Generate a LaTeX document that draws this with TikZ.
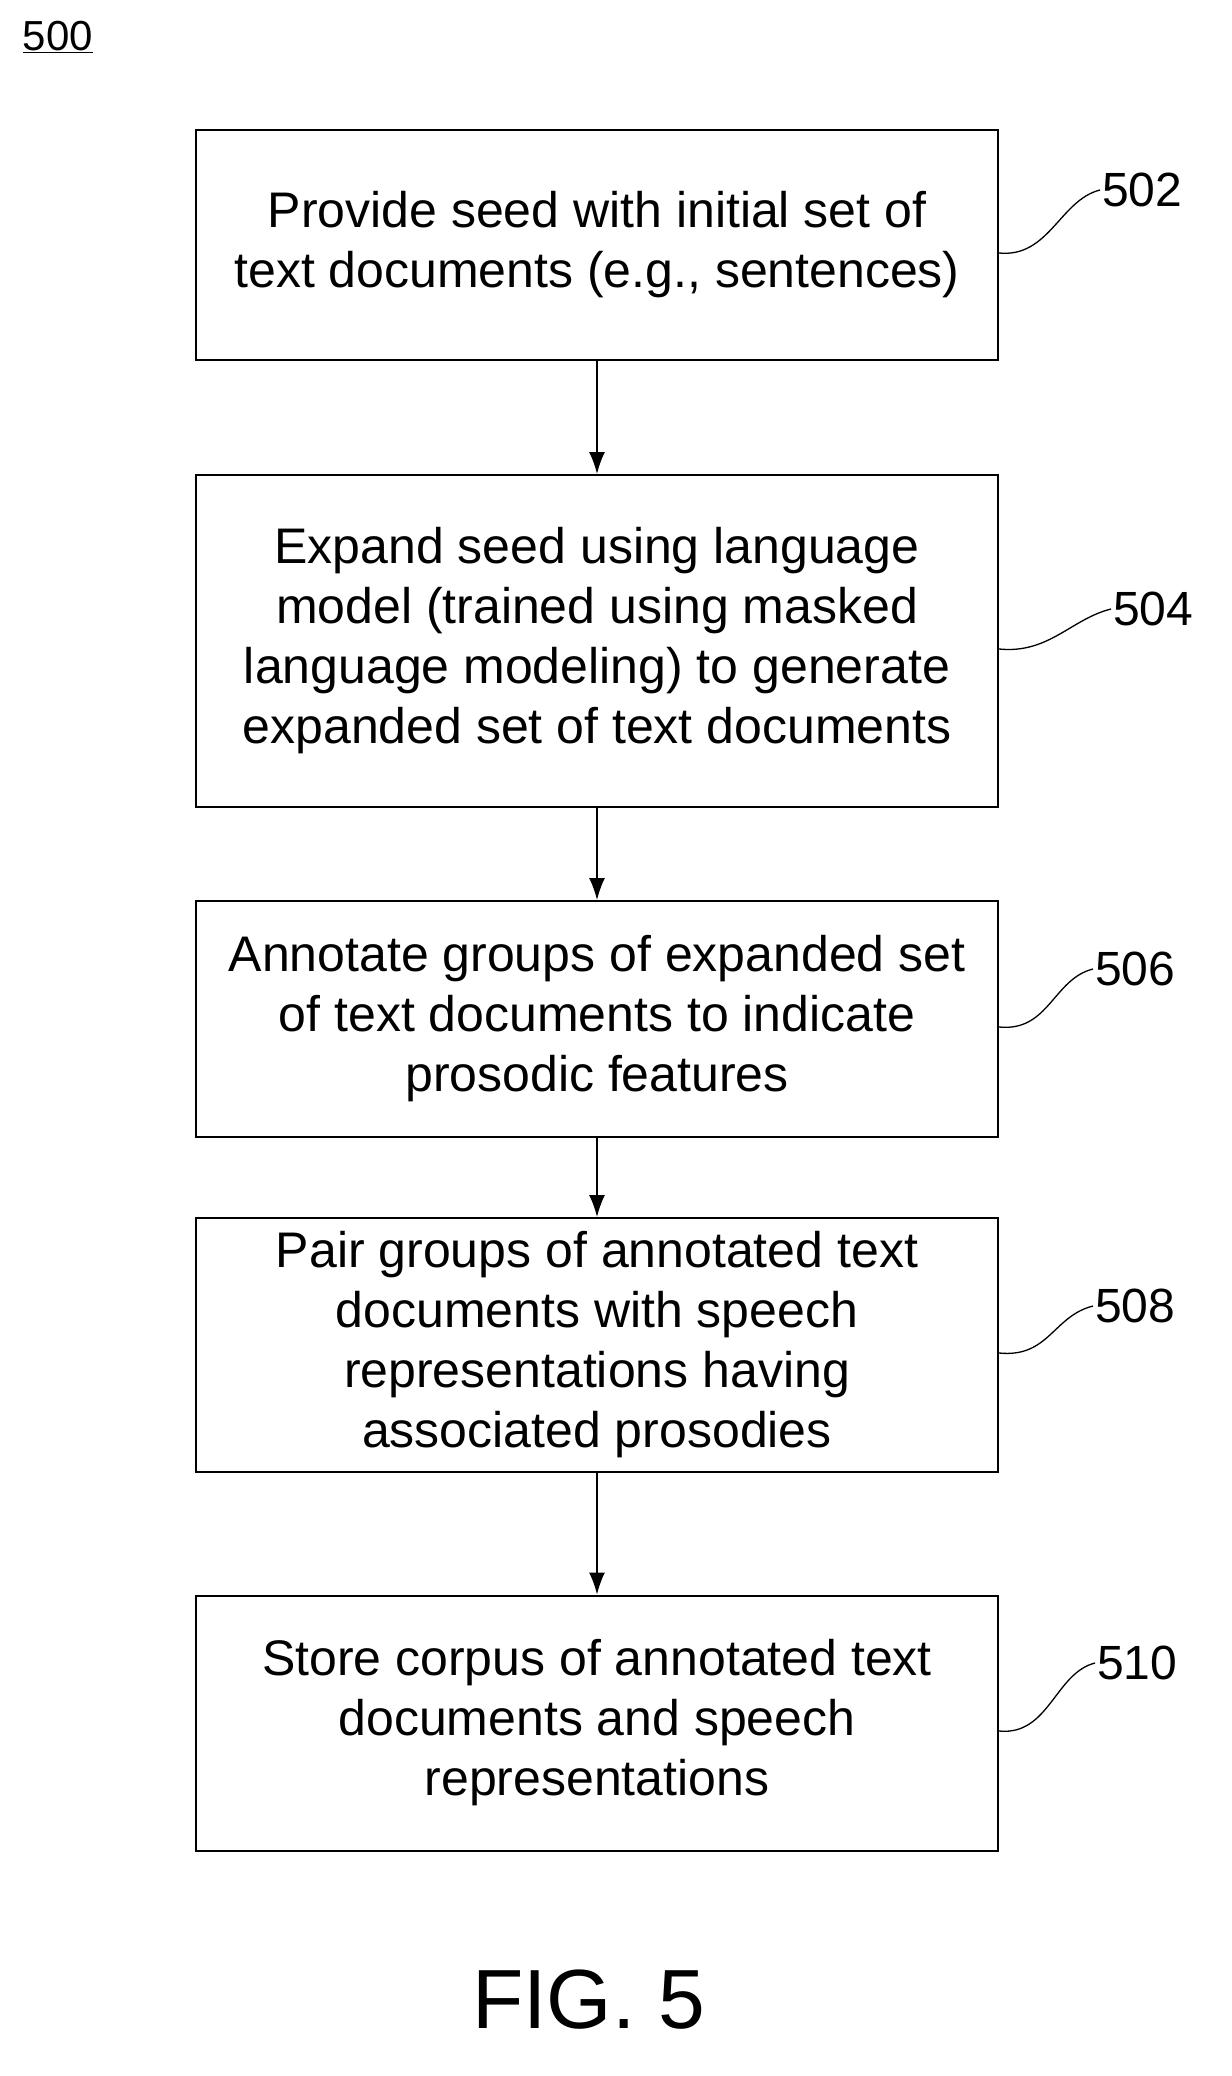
\documentclass[tikz,border=0pt]{standalone}
\usepackage{fontspec}
\setmainfont{Liberation Sans}
\begin{document}
\begin{tikzpicture}[x=1pt,y=-1pt,
  box/.style={draw,line width=2pt,minimum width=802pt,align=center,font=\fontsize{50}{60}\selectfont,inner sep=0pt},
  lab/.style={anchor=west,font=\fontsize{48}{54}\selectfont,inner sep=2pt},
  arr/.style={line width=1.5pt,-{Latex[length=22pt,width=16pt]}},
  sq/.style={line width=1.3pt}]
\usetikzlibrary{arrows.meta}
\useasboundingbox (0,0) rectangle (1231,2076);
\node[box,minimum height=229pt] (b1) at (597,245) {Provide seed with initial set of\\text documents (e.g., sentences)};
\node[box,minimum height=332pt] (b2) at (597,641) {Expand seed using language\\model (trained using masked\\language modeling) to generate\\expanded set of text documents};
\node[box,minimum height=236pt] (b3) at (597,1019) {Annotate groups of expanded set\\of text documents to indicate\\prosodic features};
\node[box,minimum height=254pt] (b4) at (597,1345) {Pair groups of annotated text\\documents with speech\\representations having\\associated prosodies};
\node[box,minimum height=255pt] (b5) at (597,1723) {Store corpus of annotated text\\documents and speech\\representations};
\draw[arr] (b1) -- (b2);
\draw[arr] (b2) -- (b3);
\draw[arr] (b3) -- (b4);
\draw[arr] (b4) -- (b5);
\node[lab] (l1) at (1100,190) {502};
\node[lab] (l2) at (1111,609) {504};
\node[lab] (l3) at (1093,969) {506};
\node[lab] (l4) at (1093,1306) {508};
\node[lab] (l5) at (1095,1663) {510};
\foreach \b/\l in {b1/l1,b2/l2,b3/l3,b4/l4,b5/l5}{
  \draw[sq] ([yshift=-8pt]\b.east) .. controls +(50,5) and +(-40,10) .. (\l.west);
}
\node[font=\fontsize{42}{48}\selectfont,inner sep=0pt] (t) at (58,37) {\underline{500}};
\node[font=\fontsize{84}{90}\selectfont] (f) at (589,2000) {FIG. 5};
\end{tikzpicture}
\end{document}
